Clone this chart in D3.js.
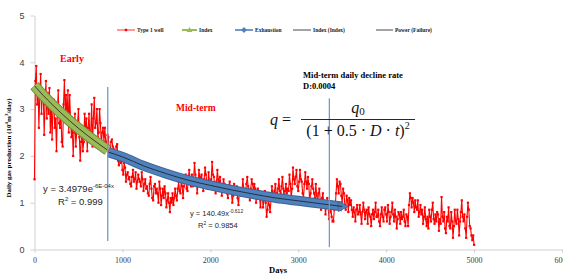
<!DOCTYPE html>
<html>
<head>
<meta charset="utf-8">
<script src="https://cdn.jsdelivr.net/npm/d3@7"></script>
<style>
  body { margin: 0; background: #fff; }
  svg { display: block; }
</style>
</head>
<body>
<svg id="chart" width="563" height="274"></svg>
<script>
const wellDays = d3.range(0, 5001, 10);
const wellRate = [
  1.5, 3.6, 3.92, 3.1, 3.5, 2.6, 3.3, 3.75, 2.9, 3.4,
  3.3, 2.45, 3.1, 3.6, 2.8, 3.35, 2.9, 3.45, 2.5, 3.2,
  2.35, 3.0, 3.2, 2.6, 2.8, 2.1, 2.9, 3.4, 2.7, 2.6,
  3.0, 2.3, 2.2, 3.1, 3.62, 2.9, 3.3, 2.7, 3.4, 2.5,
  3.3, 2.8, 2.4, 2.6, 2.0, 2.5, 2.9, 2.2, 2.5, 2.7,
  3.0, 2.4, 1.9, 2.3, 2.6, 2.1, 2.3, 2.9, 2.5, 2.8,
  2.1, 2.6, 2.9, 2.4, 2.5, 3.1, 2.2, 2.8, 3.24, 2.6,
  2.7, 3.0, 2.4, 2.5, 3.0, 2.7, 2.2, 2.5, 2.6, 2.3,
  2.6, 2.3, 2.2, 2.45, 2.4, 2.1, 2.05, 2.3, 2.35, 2.2,
  2.15, 2.0, 1.95, 2.2, 2.25, 1.9, 1.8, 2.0, 1.85, 1.95,
  1.7, 1.6, 1.85, 1.75, 1.45, 1.6, 1.65, 1.5, 1.55, 1.4,
  1.35, 1.55, 1.7, 1.45, 1.5, 1.65, 1.3, 1.45, 1.6, 1.5,
  1.45, 1.35, 1.65, 1.5, 1.25, 1.4, 1.5, 1.3, 1.35, 1.2,
  1.15, 1.4, 1.55, 1.3, 1.1, 1.05, 1.35, 1.4, 1.2, 1.3,
  1.2, 1.0, 1.45, 1.3, 0.95, 1.15, 1.3, 1.1, 1.35, 1.2,
  0.9, 1.05, 1.2, 1.0, 0.8, 1.1, 1.0, 1.2, 0.95, 1.1,
  1.3, 1.15, 1.05, 1.3, 1.45, 1.25, 1.2, 1.5, 1.35, 1.1,
  1.35, 1.5, 1.6, 1.3, 1.25, 1.55, 1.7, 1.4, 1.35, 1.6,
  1.35, 1.5, 1.85, 1.6, 1.5, 1.2, 1.4, 1.7, 1.55, 1.4,
  1.6, 1.45, 1.25, 1.5, 1.75, 1.6, 1.45, 1.3, 1.65, 1.45,
  1.3, 1.5, 1.87, 1.6, 1.55, 1.35, 1.2, 1.45, 1.7, 1.5,
  1.35, 1.55, 1.4, 1.15, 1.3, 1.5, 1.4, 1.25, 1.3, 1.2,
  1.1, 1.35, 1.45, 1.25, 1.2, 1.0, 1.15, 1.4, 1.3, 1.2,
  1.35, 1.1, 0.95, 1.2, 1.3, 1.15, 1.25, 1.5, 1.3, 1.2,
  1.2, 1.4, 1.55, 1.35, 1.2, 1.05, 1.3, 1.5, 1.4, 1.25,
  1.4, 1.3, 1.0, 1.15, 1.3, 1.25, 1.1, 0.9, 1.15, 1.2,
  0.9, 1.05, 1.25, 1.0, 0.7, 0.85, 1.1, 0.95, 0.8, 1.05,
  1.35, 1.2, 1.05, 1.25, 1.4, 1.2, 1.15, 1.3, 1.5, 1.25,
  1.2, 1.35, 1.55, 1.3, 1.05, 1.25, 1.4, 1.2, 1.3, 1.25,
  1.6, 1.4, 1.1, 1.3, 1.75, 1.5, 1.4, 1.55, 1.7, 1.35,
  1.25, 1.45, 1.7, 1.5, 1.45, 1.2, 1.1, 1.4, 1.65, 1.45,
  1.3, 1.55, 1.4, 1.0, 1.2, 1.35, 1.5, 1.3, 1.2, 1.1,
  1.4, 1.15, 1.0, 1.2, 1.3, 1.05, 0.85, 1.1, 1.2, 1.0,
  1.0, 0.75, 0.95, 1.1, 0.9, 0.65, 0.8, 0.95, 0.7, 0.6,
  0.6, 0.85, 0.9, 1.2, 1.5, 1.35, 1.2, 1.45, 1.4, 1.15,
  1.0, 1.3, 1.2, 0.95, 0.85, 1.15, 1.05, 0.8, 1.1, 0.95,
  1.05, 0.85, 0.7, 0.9, 0.8, 0.6, 0.85, 0.95, 0.75, 0.8,
  0.95, 0.75, 0.55, 0.8, 1.0, 0.85, 0.65, 0.8, 0.85, 0.55,
  0.9, 0.75, 0.7, 0.5, 0.75, 0.85, 0.65, 0.8, 1.0, 0.7,
  0.7, 0.85, 0.6, 0.5, 0.75, 0.9, 0.7, 0.6, 0.85, 0.9,
  0.75, 0.6, 0.95, 0.8, 0.55, 0.7, 0.8, 1.0, 0.75, 0.6,
  0.85, 0.7, 0.45, 0.65, 0.8, 0.75, 0.55, 0.8, 0.65, 0.7,
  0.85, 0.6, 0.5, 0.75, 0.7, 0.5, 0.95, 1.2, 1.1, 0.9,
  1.1, 1.0, 0.8, 1.05, 0.9, 0.85, 1.05, 0.7, 0.8, 0.95,
  0.75, 0.85, 0.55, 0.7, 0.9, 0.65, 0.5, 0.7, 0.45, 0.85,
  0.7, 0.6, 0.85, 1.0, 0.65, 0.55, 0.75, 0.6, 0.8, 0.75,
  0.4, 0.65, 0.55, 1.12, 0.7, 0.6, 0.8, 0.45, 0.35, 0.7,
  0.6, 0.9, 0.5, 0.45, 0.8, 0.6, 0.25, 0.5, 0.85, 0.6,
  0.55, 0.85, 0.65, 0.3, 0.6, 0.8, 1.05, 0.7, 0.6, 0.75,
  0.45, 0.25, 0.7, 1.0, 0.85, 0.5, 0.45, 0.3, 0.2, 0.3,
  0.1
];

// Index (early stage) series
const indexDays = [0, 100, 200, 300, 400, 500, 600, 700, 833];
const indexRate = [3.50, 3.29, 3.10, 2.92, 2.75, 2.59, 2.44, 2.30, 2.12];

// Exhaustion (mid-term) series
const exhaustDays = [840, 1000, 1250, 1500, 1750, 2000, 2250, 2500, 2750, 3000, 3250, 3500];
const exhaustRate = [2.08, 1.98, 1.78, 1.62, 1.48, 1.37, 1.27, 1.18, 1.10, 1.04, 0.98, 0.92];

// stage boundaries (day, bottom, top)
const boundaryDays = [833, 3354];
const boundaryLow = [0.18, 0.05];
const boundaryHigh = [3.47, 3.23];

const xTicks = [0, 1000, 2000, 3000, 4000, 5000, 6000];
const yTicks = [0, 1, 2, 3, 4, 5];

const legendItems = ['Type 1 well', 'Index', 'Exhaustion', 'Index (Index)', 'Power (Failure)'];

const svg = d3.select('#chart');
const x = d3.scaleLinear().domain([0, 6000]).range([34.5, 562]);
const y = d3.scaleLinear().domain([0, 5]).range([249.5, 15.5]);

const serif = '"Liberation Serif", "Times New Roman", serif';
const sans = '"Liberation Sans", Arial, sans-serif';

// axes
const xAxis = svg.append('g')
    .attr('transform', `translate(0,${y(0)})`)
    .call(d3.axisBottom(x).tickValues(xTicks).tickFormat(d3.format('d')).tickSize(3).tickSizeOuter(0));
xAxis.selectAll('text').attr('font-family', serif).attr('font-size', 8).attr('fill', '#404040').attr('dy', '0.9em');

const yAxis = svg.append('g')
    .attr('transform', `translate(${x(0)},0)`)
    .call(d3.axisLeft(y).tickValues(yTicks).tickFormat(d3.format('d')).tickSize(4).tickSizeOuter(0).tickPadding(6));
yAxis.selectAll('text').attr('font-family', sans).attr('font-size', 9).attr('fill', '#404040');
svg.selectAll('.domain, .tick line').attr('stroke', '#d0d0d0');

// axis titles
svg.append('text')
    .attr('x', 278).attr('y', 273)
    .attr('text-anchor', 'middle')
    .attr('font-family', serif).attr('font-weight', 'bold').attr('font-size', 8.5)
    .text('Days');

svg.append('text')
    .attr('transform', 'translate(11,148) rotate(-90)')
    .attr('text-anchor', 'middle')
    .attr('font-family', serif).attr('font-weight', 'bold').attr('font-size', 7)
    .html('Daily gas production (10<tspan dy="-3" font-size="5">4</tspan><tspan dy="3">m</tspan><tspan dy="-3" font-size="5">3</tspan><tspan dy="3">/day)</tspan>');

// Type 1 well
const well = wellDays.map((d, i) => ({ d, v: wellRate[i] }));
svg.append('path')
    .datum(well)
    .attr('fill', 'none')
    .attr('stroke', '#ff0000')
    .attr('stroke-width', 1.1)
    .attr('stroke-linejoin', 'round')
    .attr('d', d3.line().x(p => x(p.d)).y(p => y(p.v)));
svg.append('g').selectAll('rect')
    .data(well)
    .join('rect')
    .attr('x', p => x(p.d) - 1.1).attr('y', p => y(p.v) - 1.1)
    .attr('width', 2.2).attr('height', 2.2)
    .attr('fill', '#ff0000');

// Index band (green)
const band = d3.line().x(p => x(p.d)).y(p => y(p.v)).curve(d3.curveMonotoneX);
const idx = indexDays.map((d, i) => ({ d, v: indexRate[i] }));
svg.append('path').datum(idx)
    .attr('fill', 'none').attr('stroke', '#71893f').attr('stroke-width', 11)
    .attr('d', band);
svg.append('path').datum(idx)
    .attr('fill', 'none').attr('stroke', '#9bbb59').attr('stroke-width', 9)
    .attr('d', band);

// Exhaustion band (blue)
const exh = exhaustDays.map((d, i) => ({ d, v: exhaustRate[i] }));
svg.append('path').datum(exh)
    .attr('fill', 'none').attr('stroke', '#3b6596').attr('stroke-width', 10)
    .attr('d', band);
svg.append('path').datum(exh)
    .attr('fill', 'none').attr('stroke', '#4f81bd').attr('stroke-width', 8)
    .attr('d', band);
const last = exh[exh.length - 1];
svg.append('path')
    .attr('transform', `translate(${x(last.d)},${y(last.v)})`)
    .attr('d', 'M-4,-5L6,0L-4,5Z')
    .attr('fill', '#4f81bd').attr('stroke', '#3b6596').attr('stroke-width', 0.8);

// trend lines
[idx, exh].forEach(s => {
    svg.append('path').datum(s)
        .attr('fill', 'none').attr('stroke', '#1a1a1a').attr('stroke-width', 0.8)
        .attr('d', band);
});

// stage boundaries
svg.append('g').selectAll('line')
    .data(boundaryDays)
    .join('line')
    .attr('x1', d => x(d)).attr('x2', d => x(d))
    .attr('y1', (d, i) => y(boundaryLow[i])).attr('y2', (d, i) => y(boundaryHigh[i]))
    .attr('stroke', '#6f9bd2').attr('stroke-width', 1.3);

// legend
const lg = svg.append('g').attr('font-family', serif).attr('font-weight', 'bold').attr('font-size', 5.5);
const lgX = [117, 182, 235, 293, 376];
const lgLen = [18, 15, 18, 18, 17];
const lgCol = ['#ff0000', '#9bbb59', '#4f81bd', '#1a1a1a', '#1a1a1a'];
legendItems.forEach((name, i) => {
    const yy = 30;
    lg.append('line')
        .attr('x1', lgX[i]).attr('x2', lgX[i] + lgLen[i])
        .attr('y1', yy).attr('y2', yy)
        .attr('stroke', lgCol[i]).attr('stroke-width', i === 1 ? 2 : (i === 2 ? 1.6 : 0.8));
    const mx = lgX[i] + lgLen[i] / 2;
    if (i === 0) lg.append('rect').attr('x', mx - 1.2).attr('y', yy - 1.2).attr('width', 2.4).attr('height', 2.4).attr('fill', lgCol[0]);
    if (i === 1) lg.append('path').attr('d', `M${mx - 3},${yy + 2}L${mx},${yy - 3}L${mx + 3},${yy + 2}Z`).attr('fill', lgCol[1]);
    if (i === 2) lg.append('path').attr('d', `M${mx - 3},${yy}L${mx},${yy - 3}L${mx + 3},${yy}L${mx},${yy + 3}Z`).attr('fill', lgCol[2]);
    lg.append('text')
        .attr('x', lgX[i] + lgLen[i] + 2).attr('y', yy + 1.8)
        .attr('fill', '#1a1a1a')
        .text(name);
});

// stage labels
svg.append('text').attr('x', 60).attr('y', 62)
    .attr('font-family', serif).attr('font-weight', 'bold').attr('font-size', 10).attr('fill', '#ff0000')
    .text('Early');
svg.append('text').attr('x', 176).attr('y', 111)
    .attr('font-family', serif).attr('font-weight', 'bold').attr('font-size', 9.5).attr('fill', '#ff0000')
    .text('Mid-term');

svg.append('text').attr('x', 303).attr('y', 78)
    .attr('font-family', serif).attr('font-weight', 'bold').attr('font-size', 8.5)
    .text('Mid-term daily decline rate');
svg.append('text').attr('x', 303).attr('y', 89)
    .attr('font-family', serif).attr('font-weight', 'bold').attr('font-size', 8.5)
    .text('D:0.0004');

// decline formula
const fm = svg.append('g').attr('font-family', serif).attr('font-size', 16).attr('fill', '#111');
fm.append('text').attr('x', 270).attr('y', 125)
    .html('<tspan font-style="italic">q</tspan> =');
fm.append('line').attr('x1', 301).attr('x2', 415).attr('y1', 119.5).attr('y2', 119.5)
    .attr('stroke', '#111').attr('stroke-width', 0.9);
fm.append('text').attr('x', 358).attr('y', 113).attr('text-anchor', 'middle')
    .html('<tspan font-style="italic">q</tspan><tspan font-size="11" dy="2">0</tspan>');
fm.append('text').attr('x', 358).attr('y', 136).attr('text-anchor', 'middle')
    .html('(1 + 0.5 · <tspan font-style="italic">D</tspan> · <tspan font-style="italic">t</tspan>)<tspan font-size="10" dy="-7">2</tspan>');

// fitted equations
const eq = svg.append('g').attr('font-family', sans).attr('fill', '#262626');
eq.append('text').attr('x', 43).attr('y', 192).attr('font-size', 9.5)
    .html('y = 3.4979e<tspan font-size="6" dy="-4">-6E-04x</tspan>');
eq.append('text').attr('x', 58).attr('y', 205).attr('font-size', 9.5)
    .html('R<tspan font-size="6" dy="-4">2</tspan><tspan dy="4"> = 0.999</tspan>');
eq.append('text').attr('x', 190).attr('y', 216).attr('font-size', 7.5)
    .html('y = 140.49x<tspan font-size="5" dy="-3">-0.612</tspan>');
eq.append('text').attr('x', 198).attr('y', 228).attr('font-size', 7.5)
    .html('R<tspan font-size="5" dy="-3">2</tspan><tspan dy="3"> = 0.9854</tspan>');
</script>
</body>
</html>
